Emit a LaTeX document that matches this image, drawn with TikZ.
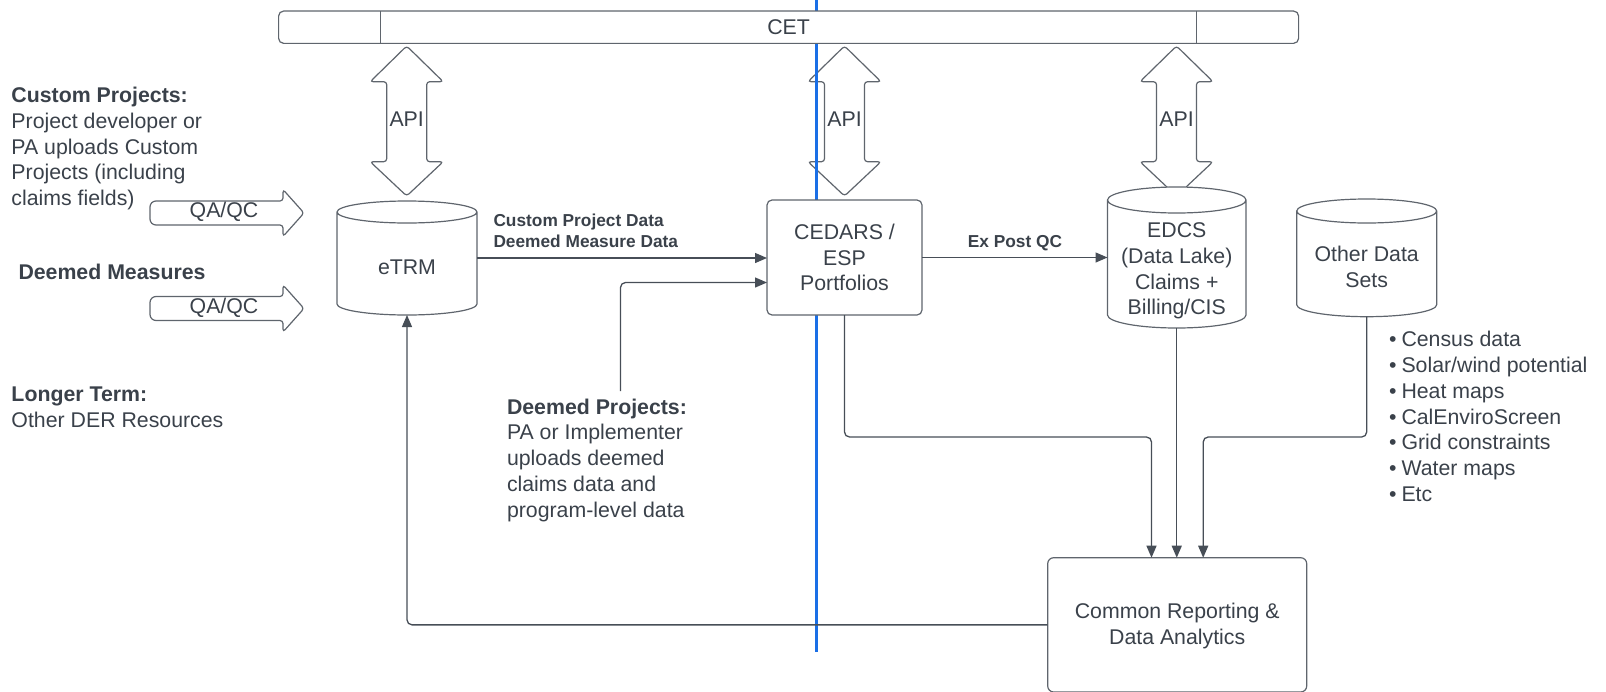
\documentclass[tikz,border=0pt]{standalone}
\usepackage{fontspec}
\setmainfont{Liberation Sans}
\usetikzlibrary{arrows.meta}
\definecolor{txtc}{HTML}{3A414A}
\definecolor{shpc}{HTML}{5F656D}
\definecolor{connc}{HTML}{474E57}
\definecolor{bluec}{HTML}{1A6FE6}
\newcommand{\cylshape}[3]{%
  \draw[shp] ([yshift=-#3pt]#1.north west) -- ([yshift=#3pt]#1.south west)
     arc[start angle=180, end angle=360, x radius=#2pt, y radius=#3pt]
     -- ([yshift=-#3pt]#1.north east)
     arc[start angle=0, end angle=180, x radius=#2pt, y radius=#3pt]
     arc[start angle=180, end angle=360, x radius=#2pt, y radius=#3pt];}
\newcommand{\apiarrow}[1]{%
  \draw[shp, rounded corners=3pt] (#1,46) -- (#1+36.5,81.7) -- (#1+20,81.7) -- (#1+20,161.7)
     -- (#1+36.5,161.7) -- (#1,196) -- (#1-36.5,161.7) -- (#1-20,161.7) -- (#1-20,81.7)
     -- (#1-36.5,81.7) -- cycle;}
\newcommand{\qaarrow}[1]{%
  \draw[shp, rounded corners=3pt] (220,#1-12) -- (283,#1-12) -- (283,#1-23.5) -- (304,#1)
     -- (283,#1+23.5) -- (283,#1+12) [rounded corners=6pt] -- (150,#1+12) -- (150,#1-12)
     -- (220,#1-12);}
\begin{document}
\begin{tikzpicture}[x=1pt,y=-1pt,
  every node/.style={text=txtc, font=\fontsize{21.3}{25.8}\selectfont, inner sep=0pt, outer sep=0pt},
  shp/.style={draw=shpc, line width=1.2pt, fill=white},
  conn/.style={draw=connc, line width=1.3pt, rounded corners=5pt},
  arr/.style={conn, -{Triangle[length=12pt,width=10pt]}},
  boldtxt/.style={font=\fontsize{21.3}{25.8}\selectfont\bfseries},
  smalltxt/.style={font=\fontsize{17.3}{21}\selectfont\bfseries},
]
\useasboundingbox (0,0) rectangle (1606,691);

% API double arrows
\apiarrow{406.7}
\apiarrow{844.5}
\apiarrow{1176.5}
\node[anchor=base] (api1) at (406.7,126.1) {API};
\node[anchor=base] (api2) at (844.5,126.1) {API};
\node[anchor=base] (api3) at (1176.5,126.1) {API};

% blue divider
\draw[bluec, line width=3pt] (816.8,0) -- (816.8,652);

% CET bar
\node[shp, rounded corners=5pt, minimum width=1020pt, minimum height=32.3pt] (cet) at (788.6,27.2) {CET};
\draw[shpc, line width=1pt] (cet.north -| 380,0) -- (cet.south -| 380,0);
\draw[shpc, line width=1pt] (cet.north -| 1196.3,0) -- (cet.south -| 1196.3,0);

% cylinders
\node[minimum width=140pt, minimum height=114pt] (etrm) at (407,258) {};
\cylshape{etrm}{70}{11}
\node[anchor=base] (etrmlbl) at (407,274.6) {eTRM};

\node[minimum width=138.5pt, minimum height=141pt] (edcs) at (1176.75,257.5) {};
\cylshape{edcs}{69.25}{13}
\node[align=center] (edcslbl) at (1176.75,271) {EDCS\\(Data Lake)\\Claims +\\Billing/CIS};

\node[minimum width=140pt, minimum height=117.7pt] (other) at (1366.7,257.85) {};
\cylshape{other}{70}{12}
\node[align=center] (otherlbl) at (1366.7,266.5) {Other Data\\Sets};

% CEDARS box
\node[shp, rounded corners=5pt, minimum width=155pt, minimum height=115pt, align=center] (cedars) at (844.5,257.5) {CEDARS /\\ESP\\Portfolios};

% Common box
\node[shp, rounded corners=6pt, minimum width=259pt, minimum height=134.3pt] (common) at (1177.2,624.85) {};
\node[align=center] (commonlbl) at (1177.2,626.3) {Common Reporting \&\\Data Analytics};

% QA/QC arrows
\qaarrow{213}
\qaarrow{308.5}
\node[anchor=base] (qa1) at (224,217.6) {QA/QC};
\node[anchor=base] (qa2) at (224,313.6) {QA/QC};

% left texts
\node[anchor=north west, align=left] (custom) at (11.5,87) {{\bfseries Custom Projects:}\\Project developer or\\PA uploads Custom\\Projects (including\\claims fields)};
\node[boldtxt, anchor=base west] (deemedm) at (18.5,279.6) {Deemed Measures};
\node[anchor=north west, align=left] (longer) at (11.5,387.3) {{\bfseries Longer Term:}\\Other DER Resources};

% deemed projects
\node[anchor=north west, align=left] (dp) at (507,398.7) {{\bfseries Deemed Projects:}\\PA or Implementer\\uploads deemed\\claims data and\\program-level data};

% connector labels
\node[smalltxt, anchor=north west, align=left] (cpd) at (493.5,214.3) {Custom Project Data\\Deemed Measure Data};
\node[smalltxt, anchor=base] (expost) at (1015,247.9) {Ex Post QC};

% bullet list
\node[anchor=north west, align=left] (bullets) at (1389,331.3) {%
\makebox[12.5pt][l]{•}Census data\\
\makebox[12.5pt][l]{•}Solar/wind potential\\
\makebox[12.5pt][l]{•}Heat maps\\
\makebox[12.5pt][l]{•}CalEnviroScreen\\
\makebox[12.5pt][l]{•}Grid constraints\\
\makebox[12.5pt][l]{•}Water maps\\
\makebox[12.5pt][l]{•}Etc};

% connectors
\coordinate (dpx) at (620.5,391);
\coordinate (busy) at (0,437);
\draw[arr] (etrm.east) -- (etrm.east -| cedars.west);
\draw[arr] (cedars.east) -- (cedars.east -| edcs.west);
\draw[arr] (dpx) |- ([yshift=-25pt]cedars.west);
\draw[arr] (cedars.south) -- (cedars.south |- busy) -| ([xshift=-25.7pt]common.north);
\draw[arr] (edcs.south) -- (edcs.south |- common.north);
\draw[arr] (other.south) -- (other.south |- busy) -| ([xshift=26pt]common.north);
\draw[arr] (common.west) -| (etrm.south);
\end{tikzpicture}
\end{document}
